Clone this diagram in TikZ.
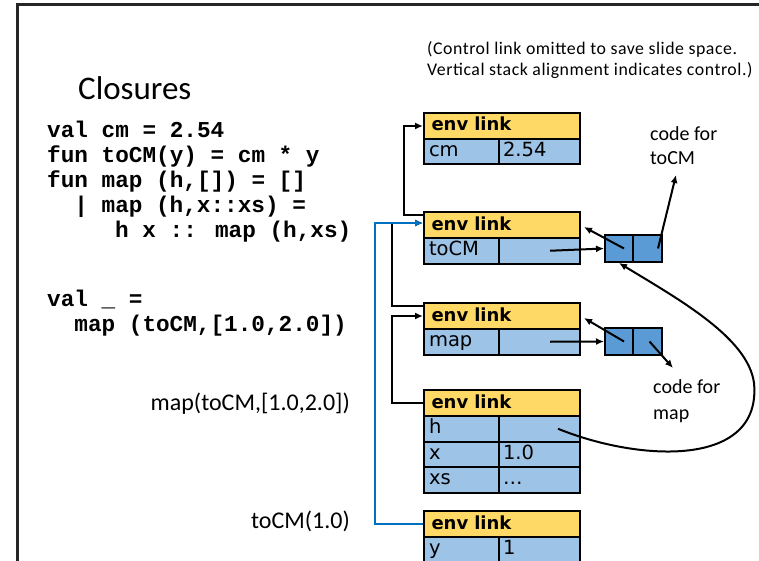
\documentclass[tikz,border=0pt]{standalone}
\usepackage{fontspec}
\setmainfont{Carlito}
\newfontfamily\fldfont{DejaVu Sans}
\newfontfamily\codefont{Liberation Mono}
\newfontfamily\notefont[LetterSpace=3]{Carlito}
\usetikzlibrary{arrows.meta,calc}

\definecolor{hdrfill}{HTML}{FFD966}
\definecolor{rowfill}{HTML}{9DC3E6}
\definecolor{closfill}{HTML}{5B9BD5}
\definecolor{linkblue}{HTML}{0070C0}

\tikzset{
  cell/.style={draw=black, line width=2pt, anchor=north west, inner ysep=0pt,
    text height=14pt, text depth=4pt, align=left,
    font=\fldfont\fontsize{19.5}{21}\selectfont},
  hdr/.style={cell, fill=hdrfill, minimum height=26pt, inner xsep=7.5pt,
    text width=141pt, font=\fldfont\bfseries\fontsize{18}{20}\selectfont},
  keycell/.style={cell, fill=rowfill, minimum height=25.5pt, inner xsep=5pt, text width=65pt},
  valcell/.style={cell, fill=rowfill, minimum height=25.5pt, inner xsep=4pt, text width=73pt},
  clos/.style={draw=black, line width=2pt, fill=closfill, anchor=north west,
    inner sep=0pt, minimum height=27pt},
  arr/.style={line width=2pt, -{Latex[length=8pt,width=7pt]}},
  envlink/.style={line width=2pt, -{Latex[length=8pt,width=7pt]}},
  bluelink/.style={line width=2.2pt, draw=linkblue, -{Latex[length=8pt,width=7pt]}},
  code/.style={anchor=base west, inner sep=0pt,
    font=\codefont\bfseries\fontsize{22.7}{25}\selectfont},
  lbl/.style={inner sep=0pt, font=\fontsize{24}{28}\selectfont},
}

\begin{document}
\begin{tikzpicture}[x=1pt, y=-1pt]
\useasboundingbox (0,0) rectangle (759,561);

% slide frame
\draw[line width=3pt, black!85] (17,561) -- (17,5) -- (759,5);

% title and note
\node[anchor=west, inner sep=0pt, font=\fontsize{33}{38}\selectfont] (title) at (78,88) {Closures};
\node[anchor=north west, inner sep=0pt, align=left,
      font=\notefont\fontsize{17.8}{21}\selectfont] (note) at (427,41)
  {(Control link omitted to save slide space.\\Vertical stack alignment indicates control.)};

% program text
\node[code] (code1) at (47,137.5) {val cm = 2.54};
\node[code] (code2) at (47,162.5) {fun toCM(y) = cm * y};
\node[code] (code3) at (47,187.5) {fun map (h,[]) = []};
\node[code] (code4) at (74.2,212.5) {| map (h,x::xs) =};
\node[code] (code5) at (115,237.5) {h x :: map (h,xs)};
\node[code] (code6) at (47,306.5) {val \_ =};
\node[code] (code7) at (74.2,331.5) {map (toCM,[1.0,2.0])};

% call labels
\node[lbl, anchor=east] (callmap) at (350,404) {map(toCM,[1.0,2.0])};
\node[lbl, anchor=east] (calltocm) at (350,521) {toCM(1.0)};

% frame 1: top level
\node[hdr] (f1h) at (423,112) {env link};
\node[keycell] (f1k) at (423,138) {cm};
\node[valcell] (f1v) at (498,138) {2.54};

% frame 2: toCM binding
\node[hdr] (f2h) at (423,211) {env link};
\node[keycell] (f2k) at (423,237) {toCM};
\node[valcell] (f2v) at (498,237) {};

% frame 3: map binding
\node[hdr] (f3h) at (423,302) {env link};
\node[keycell] (f3k) at (423,328) {map};
\node[valcell] (f3v) at (498,328) {};

% frame 4: call of map
\node[hdr] (f4h) at (423,389) {env link};
\node[keycell] (f4hk) at (423,415) {h};
\node[valcell] (f4hv) at (498,415) {};
\node[keycell] (f4xk) at (423,440.5) {x};
\node[valcell] (f4xv) at (498,440.5) {1.0};
\node[keycell] (f4sk) at (423,466) {xs};
\node[valcell] (f4sv) at (498,466) {\ldots};

% frame 5: call of toCM
\node[hdr] (f5h) at (423,510) {env link};
\node[keycell] (f5k) at (423,536) {y};
\node[valcell] (f5v) at (498,536) {1};

% closures
\node[clos, minimum width=28pt] (c1l) at (604,234) {};
\node[clos, minimum width=29pt] (c1r) at (632,234) {};
\node[clos, minimum width=28pt] (c2l) at (604,327) {};
\node[clos, minimum width=29pt] (c2r) at (632,327) {};

% code labels
\node[anchor=north west, inner sep=0pt, align=left,
      font=\fontsize{20}{24}\selectfont] (codetocm) at (650,126) {code for\\toCM};
\node[anchor=north west, inner sep=0pt, align=left,
      font=\fontsize{20}{26}\selectfont] (codemap) at (653,379) {code for\\map};
\coordinate (tip1) at (676,175);
\coordinate (tip2) at (673,368);

% environment links
\draw[envlink] ($(f2h.north west)+(0,4)$) -- ++(-19,0) |- (f1h.west);
\draw[envlink] ($(f3h.north west)+(0,4)$) -- ++(-31,0) |- ($(f2h.west)+(0,-2)$);
\draw[envlink] (f4h.west) -- ++(-31,0) |- (f3h.west);
\draw[bluelink] (f5h.west) -- ++(-48,0) |- ($(f2h.west)+(0,-2)$);

% closure pointers
\draw[arr] ($(f2v.center)+(10.5,0)$) -- (c1l.west);
\draw[arr] ($(f3v.center)+(10.5,0)$) -- (c2l.west);
\draw[arr] ($(c1l.center)+(5,0)$) -- ($(f2h.east)+(3,2)$);
\draw[arr] ($(c2l.center)+(5,0)$) -- ($(f3h.east)+(3,2)$);
\draw[arr] ($(c1r.center)+(10.5,0)$) -- (tip1);
\draw[arr] ($(c2r.center)+(2,0)$) -- (tip2);
\draw[arr] ($(f4hv.center)+(18.5,0)$)
  .. controls (640,462) and (762,468) .. (754,383)
  .. controls (748,338) and (680,300) .. (c1l.south);
\end{tikzpicture}
\end{document}
